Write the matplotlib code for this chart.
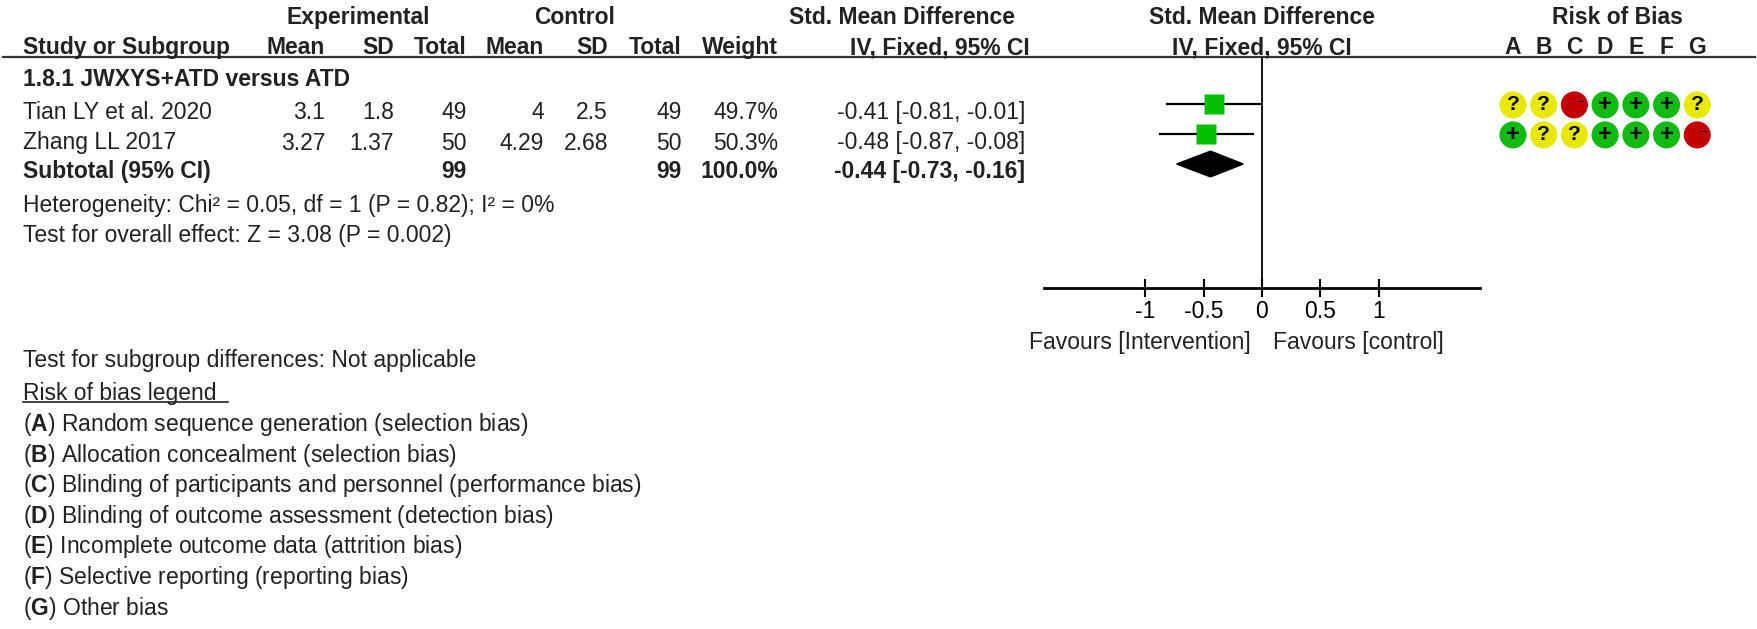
import matplotlib
matplotlib.use("Agg")
import matplotlib.pyplot as plt
import matplotlib.transforms as mtransforms

plt.rcParams['font.family'] = ['Liberation Sans', 'DejaVu Sans']
plt.rcParams['mathtext.fontset'] = 'custom'
plt.rcParams['mathtext.rm'] = 'Liberation Sans'
plt.rcParams['mathtext.bf'] = 'Liberation Sans:bold'

# ---- data ----
subgroup = "1.8.1 JWXYS+ATD versus ATD"
studies = ["Tian LY et al. 2020", "Zhang LL 2017"]
exp_mean = [3.1, 3.27]
exp_sd = [1.8, 1.37]
exp_n = [49, 50]
ctrl_mean = [4, 4.29]
ctrl_sd = [2.5, 2.68]
ctrl_n = [49, 50]
weights = [49.7, 50.3]
smd = [-0.41, -0.48]
ci_low = [-0.81, -0.87]
ci_high = [-0.01, -0.08]

total_exp = 99
total_ctrl = 99
total_weight = 100.0
pooled = -0.44
pooled_low = -0.73
pooled_high = -0.16

heterogeneity = "Heterogeneity: Chi² = 0.05, df = 1 (P = 0.82); I² = 0%"
overall = "Test for overall effect: Z = 3.08 (P = 0.002)"
subgroup_test = "Test for subgroup differences: Not applicable"

xticks = [-1, -0.5, 0, 0.5, 1]
xtick_labels = ["-1", "-0.5", "0", "0.5", "1"]

rob_domains = ["A", "B", "C", "D", "E", "F", "G"]
rob = [["?", "?", "-", "+", "+", "+", "?"],
       ["+", "?", "?", "+", "+", "+", "-"]]
rob_legend = ["Random sequence generation (selection bias)",
              "Allocation concealment (selection bias)",
              "Blinding of participants and personnel (performance bias)",
              "Blinding of outcome assessment (detection bias)",
              "Incomplete outcome data (attrition bias)",
              "Selective reporting (reporting bias)",
              "Other bias"]

# ---- layout ----
W, H = 1758, 629
FS = 16.5
TXT = "#222222"
rob_colors = {"+": "#11bb11", "?": "#e8e800", "-": "#c40000"}


def px_box(x0, y0, x1, y1):
    return [x0 / W, 1 - y1 / H, (x1 - x0) / W, (y1 - y0) / H]


fig = plt.figure(figsize=(W / 100, H / 100), dpi=100)
ax = fig.add_axes([0, 0, 1, 1])
ax.set_xlim(0, W)
ax.set_ylim(H, 0)
ax.axis("off")


def txt(x, y, s, ha="left", bold=False, **kw):
    ax.text(x, y, s, ha=ha, va="baseline", fontsize=FS, color=TXT,
            fontweight="bold" if bold else "normal", **kw)


# headers
txt(358, 24, "Experimental", ha="center", bold=True)
txt(575, 24, "Control", ha="center", bold=True)
txt(902, 24, "Std. Mean Difference", ha="center", bold=True)
txt(23, 54, "Study or Subgroup", bold=True)
cols = [325, 394, 467, 544, 608, 682, 778]
for x, lab in zip(cols, ["Mean", "SD", "Total", "Mean", "SD", "Total", "Weight"]):
    txt(x, 54, lab, ha="right", bold=True)
txt(1030, 54, "IV, Fixed, 95% CI", ha="right", bold=True)
ax.plot([3, 1755], [57, 57], color="#333333", lw=1.6)

txt(23, 86, subgroup, bold=True)

row_base = [119, 149.5]
for i, name in enumerate(studies):
    y = row_base[i]
    txt(23, y, name)
    vals = [str(exp_mean[i]), str(exp_sd[i]), str(exp_n[i]), str(ctrl_mean[i]),
            str(ctrl_sd[i]), str(ctrl_n[i]), f"{weights[i]:.1f}%"]
    for x, v in zip(cols, vals):
        txt(x, y, v, ha="right")
    txt(1025, y, f"{smd[i]:.2f} [{ci_low[i]:.2f}, {ci_high[i]:.2f}]", ha="right")

txt(23, 178, "Subtotal (95% CI)", bold=True)
txt(cols[2], 178, str(total_exp), ha="right", bold=True)
txt(cols[5], 178, str(total_ctrl), ha="right", bold=True)
txt(cols[6], 178, f"{total_weight:.1f}%", ha="right", bold=True)
txt(1025, 178, f"{pooled:.2f} [{pooled_low:.2f}, {pooled_high:.2f}]", ha="right", bold=True)
txt(23, 212, heterogeneity)
txt(23, 242, overall)

txt(23, 367, subgroup_test)
txt(23, 400, "Risk of bias legend")
ax.plot([23, 228], [402, 402], color=TXT, lw=1.2)
for i, (d, desc) in enumerate(zip(rob_domains, rob_legend)):
    txt(23, 431 + i * 30.6, "($\\mathbf{" + d + "}$) " + desc)

# ---- forest plot ----
axf = fig.add_axes(px_box(1044.4, 57, 1479.6, 288))
axf.set_xlim(-1.86, 1.86)
axf.set_ylim(7.133, -0.567)
axf.patch.set_alpha(0)
for s in ["top", "left", "right"]:
    axf.spines[s].set_visible(False)
axf.spines["bottom"].set_linewidth(2)
axf.set_yticks([])
axf.set_xticks(xticks)
axf.set_xticklabels(xtick_labels)
axf.tick_params(axis="x", direction="inout", length=13, width=1.5,
                labelsize=FS, pad=2, colors="black")
axf.axvline(0, color="black", lw=1.3)

for i in range(len(studies)):
    r = i + 1
    axf.plot([ci_low[i], ci_high[i]], [r, r], color="black", lw=1.6)
    axf.plot(smd[i], r, marker="s", ms=13.7, color="#00c000", mec="none")
r = len(studies) + 1
axf.fill([pooled_low, pooled, pooled_high, pooled], [r, r - 0.43, r, r + 0.43],
         color="black")

fwd = mtransforms.blended_transform_factory(axf.transData, ax.transData)
for y, s in [(24, "Std. Mean Difference"), (54, "IV, Fixed, 95% CI")]:
    ax.text(0, y, s, transform=fwd, ha="center", va="baseline", fontsize=FS,
            fontweight="bold", color=TXT)
ax.text(-0.1, 349, "Favours [Intervention]", transform=fwd, ha="right",
        va="baseline", fontsize=FS, color=TXT)
ax.text(0.09, 349, "Favours [control]", transform=fwd, ha="left",
        va="baseline", fontsize=FS, color=TXT)

# ---- risk of bias ----
axr = fig.add_axes(px_box(1497.6, 57, 1712.6, 288))
axr.set_xlim(-0.5, 6.5)
axr.set_ylim(7.133, -0.567)
axr.axis("off")
for i, row in enumerate(rob):
    r = i + 1.03
    for j, j_val in enumerate(row):
        axr.scatter(j, r, s=380, color=rob_colors[j_val], edgecolors="none", zorder=2)
        if j_val == "?":
            axr.text(j, r, "?", ha="center", va="center", fontsize=15,
                     fontweight="bold", color="black", zorder=3)
        elif j_val == "+":
            axr.text(j, r, "+", ha="center", va="center", fontsize=17,
                     fontweight="bold", color="black", zorder=3)
        else:
            axr.text(j + 0.2, r - 0.08, "–", ha="center", va="center", fontsize=9,
                     color="black", zorder=3)

rwd = mtransforms.blended_transform_factory(axr.transData, ax.transData)
for j, d in enumerate(rob_domains):
    ax.text(j, 54, d, transform=rwd, ha="center", va="baseline", fontsize=FS,
            fontweight="bold", color=TXT)
txt(1617, 24, "Risk of Bias", ha="center", bold=True)

fig.savefig("out.png", dpi=100)
